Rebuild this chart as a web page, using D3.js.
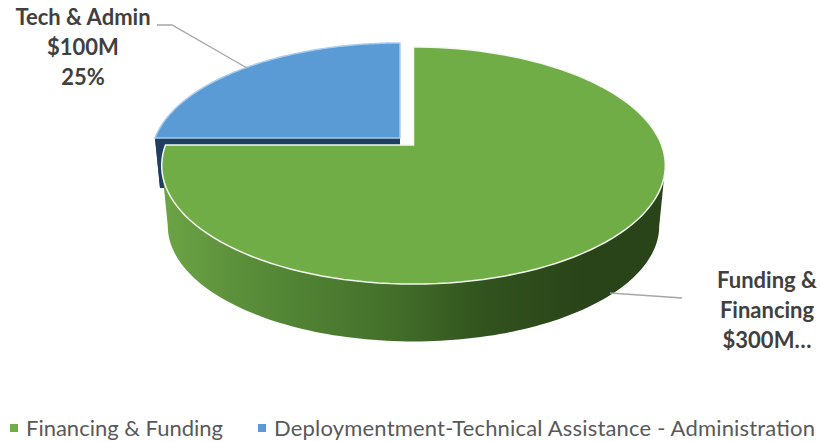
<!DOCTYPE html>
<html><head><meta charset="utf-8">
<script src="https://cdn.jsdelivr.net/npm/d3@7"></script>
<style>html,body{margin:0;background:#fff}svg{display:block}</style></head>
<body><svg id="c" width="820" height="442"></svg>
<script>
const categories = ["Financing & Funding", "Deploymentment-Technical Assistance - Administration"];
const values = [300, 100];
const labelLines = [["Funding &", "Financing", "$300M…"], ["Tech & Admin", "$100M", "25%"]];

const svg = d3.select("#c");
const k = 0.173;
const colors = ["#70ad47", "#5b9bd5"];
const rings = [
  {top:{x:413.5,y:145,a:248,b:115}, bottom:{x:413.5,y:206,a:242,b:112}},
  {top:{x:400,y:138,a:245,b:111.5}, bottom:{x:400,y:188,a:240,b:109}}
];
const project = (r, t) => {
  const c = -Math.cos(t), s = Math.sin(t), w = 1 - k * c;
  return [r.x + r.a * s / w, r.y + r.b * c / w];
};
const arcs = d3.pie().sort(null).value(d => d)(values);
const samples = (a0, a1) => d3.range(0, 121).map(i => a0 + (a1 - a0) * i / 120);
const line = d3.line();
const silhouette = Math.acos(-k);

const defs = svg.append("defs");
const grad = defs.append("linearGradient").attr("id", "wall")
  .attr("gradientUnits", "userSpaceOnUse").attr("x1", 165).attr("x2", 660).attr("y1", 0).attr("y2", 0);
[[0,"#6ca345"],[0.18,"#588c39"],[0.45,"#44702b"],[0.65,"#31521e"],[0.85,"#2a4419"],[1,"#2a4419"]]
  .forEach(d => grad.append("stop").attr("offset", d[0]).attr("stop-color", d[1]));

// blue slice side faces
const bt = rings[1].top, bb = rings[1].bottom, ba = arcs[1];
const bs = samples(ba.startAngle, ba.startAngle + 0.5);
svg.append("path").attr("fill", "#1f3f60").attr("d",
  line(bs.map(t => project(bt, t)).concat(bs.slice().reverse().map(t => project(bb, t)))) + "Z");
svg.append("path").attr("fill", "#1f3f60").attr("d",
  line([project(bt, ba.startAngle), [bt.x, bt.y], [bb.x, bb.y], project(bb, ba.startAngle)]) + "Z");

// green wall, between the two silhouette points of the rim
const gt = rings[0].top, gb = rings[0].bottom;
const gs = samples(silhouette, 2 * Math.PI - silhouette);
svg.append("path").attr("fill", "url(#wall)").attr("d",
  line(gs.map(t => project(gt, t)).concat(gs.slice().reverse().map(t => project(gb, t)))) + "Z");

// top faces
arcs.forEach((a, i) => {
  const r = rings[i].top;
  const pts = [[r.x, r.y]].concat(samples(a.startAngle, a.endAngle).map(t => project(r, t)));
  svg.append("path").attr("d", line(pts) + "Z").attr("fill", colors[i])
    .attr("stroke", i ? "#a9cdec" : "#f4f8f0").attr("stroke-width", 1.5).attr("stroke-linejoin", "miter");
});

// leader lines
const leaders = [[[610,293],[682,298]], [[247,68],[172,25],[157,25]]];
leaders.forEach(l => svg.append("path").attr("d", line(l)).attr("fill", "none").attr("stroke", "#a6a6a6").attr("stroke-width", 1.3));

// labels
const labelPos = [[767, 288], [83, 25]];
labelLines.forEach((ls, i) => ls.forEach((t, j) => svg.append("text")
  .attr("x", labelPos[i][0]).attr("y", labelPos[i][1] + j * 30)
  .attr("text-anchor", "middle").attr("font-family", "Lato").attr("font-weight", 700)
  .attr("font-size", 22).attr("fill", "#404040").text(t)));

// legend
const legendX = [[10, 26, 197], [258, 274, 541]];
categories.forEach((c, i) => {
  svg.append("rect").attr("x", legendX[i][0]).attr("y", 424).attr("width", 8).attr("height", 8).attr("fill", colors[i]);
  svg.append("text").attr("x", legendX[i][1]).attr("y", 436)
    .attr("font-family", "Lato").attr("font-size", 22).attr("fill", "#595959")
    .attr("textLength", legendX[i][2]).attr("lengthAdjust", "spacing").text(c);
});
</script></body></html>
